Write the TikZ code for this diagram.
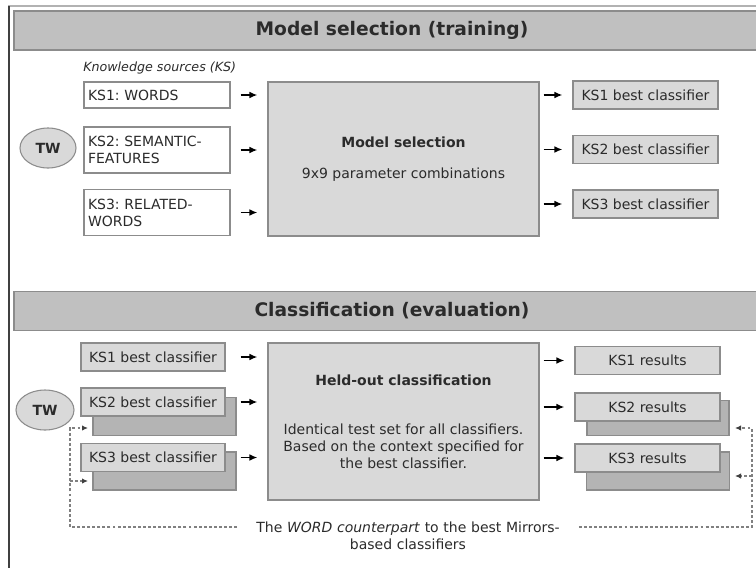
\documentclass[tikz,border=0pt]{standalone}
\usepackage{fontspec}
\setmainfont{DejaVu Sans}
\usetikzlibrary{arrows.meta,shapes.geometric}
\definecolor{barfill}{HTML}{C0C0C0}
\definecolor{barline}{HTML}{8C8C8C}
\definecolor{boxfill}{HTML}{D9D9D9}
\definecolor{boxline}{HTML}{8C8C8C}
\definecolor{shadefill}{HTML}{B4B4B4}
\definecolor{ink}{HTML}{2B2B2B}
\frenchspacing
\begin{document}
\begin{tikzpicture}[x=0.75pt,y=-0.75pt,
  font=\fontsize{10.5}{12.75}\selectfont, text=ink,
  bar/.style={draw=barline,fill=barfill,line width=1.2pt,minimum width=567pt,minimum height=29.25pt,font=\fontsize{14}{16}\selectfont\bfseries},
  ksbox/.style={draw=boxline,fill=white,line width=0.8pt,minimum width=109.5pt,text width=103.5pt,inner xsep=3pt,align=left},
  outbox/.style={draw=boxline,fill=boxfill,line width=0.8pt,minimum width=108.75pt,minimum height=21pt},
  shadebox/.style={draw=boxline,fill=shadefill,line width=0.8pt,minimum width=107.25pt,minimum height=28.5pt},
  bigbox/.style={draw=boxline,fill=boxfill,line width=0.8pt,minimum width=203.25pt,align=center},
  twoval/.style={ellipse,draw=boxline,fill=boxfill,line width=0.8pt,minimum width=42pt,minimum height=30pt,font=\fontsize{10.5}{12}\selectfont\bfseries},
  note/.style={text width=246pt,inner xsep=5pt,inner ysep=0pt,align=center},
  arr/.style={-{Latex[length=6pt,width=5pt]},line width=1.2pt,black,shorten <=7.5pt,shorten >=7.5pt},
  loopline/.style={draw=gray,line width=0.8pt,dash pattern=on 2.2pt off 1.6pt},
  looparr/.style={loopline,-{Latex[length=4.5pt,width=4pt,color=black!75]}}]
\useasboundingbox (0,0) rectangle (756,568);
\draw[gray!60,line width=1pt] (8,6) -- (756,6);
\draw[gray!50!black,line width=1.6pt] (9,6) -- (9,568);

\node[bar] (hdr1) at (392,30.5) {Model selection (training)};
\node[anchor=west,inner sep=0pt,font=\fontsize{9.5}{11}\selectfont\itshape] (kslabel) at (83,68) {Knowledge sources (KS)};
\node[ksbox,minimum height=19.5pt] (ks1) at (157,95) {KS1: WORDS};
\node[ksbox,minimum height=34.5pt] (ks2) at (157,150) {KS2: SEMANTIC-\\FEATURES};
\node[ksbox,minimum height=34.5pt] (ks3) at (157,212.5) {KS3: RELATED-\\WORDS};
\node[twoval] (tw1) at (48,148) {TW};
\node[bigbox,minimum height=115.5pt] (msel) at (403.5,159) {\textbf{Model selection}\\[10pt]9x9 parameter combinations};
\node[outbox] (best1) at (645.5,95) {KS1 best classifier};
\node[outbox] (best2) at (645.5,149.5) {KS2 best classifier};
\node[outbox] (best3) at (645.5,204) {KS3 best classifier};
\foreach \n in {1,2,3} \draw[arr] (ks\n.east) -- (ks\n.east -| msel.west);
\foreach \n in {1,2,3} \draw[arr,shorten <=3pt] (best\n.west -| msel.east) -- (best\n.west);

\node[bar] (hdr2) at (392,311) {Classification (evaluation)};
\node[twoval,minimum width=43.5pt] (tw2) at (45,410) {TW};
\node[outbox,minimum width=108pt] (cls1) at (153,357) {KS1 best classifier};
\node[shadebox] (cls2sh) at (164.5,416.5) {};
\node[outbox,minimum width=108pt] (cls2) at (153,402) {KS2 best classifier};
\node[shadebox] (cls3sh) at (164.5,471) {};
\node[outbox,minimum width=108pt] (cls3) at (153,457.5) {KS3 best classifier};
\node[bigbox,minimum height=117.75pt] (held) at (403.5,421.5) {\textbf{Held-out classification}\\[24pt]Identical test set for all classifiers.\\Based on the context specified for\\the best classifier.};
\node[outbox] (res1) at (647.5,360.5) {KS1 results};
\node[shadebox,minimum width=106.5pt,minimum height=26.25pt] (res2sh) at (658,418) {};
\node[outbox] (res2) at (647.5,407) {KS2 results};
\node[shadebox] (res3sh) at (658,471) {};
\node[outbox] (res3) at (647.5,458) {KS3 results};
\foreach \n in {1,2,3} \draw[arr,shorten <=11.25pt] (cls\n.east) -- (cls\n.east -| held.west);
\foreach \n in {1,2,3} \draw[arr,shorten <=3pt] (res\n.west -| held.east) -- (res\n.west);

\node[note] (note) at (408,536) {The \textit{WORD counterpart} to the best Mirrors-\\based classifiers};
\coordinate (lb) at (70,527);
\coordinate (rb) at (752,527);
\coordinate (l2) at (88,428);
\coordinate (l3) at (88,481);
\coordinate (r2) at (735,428);
\coordinate (r3) at (735,476);
\draw[looparr] (note.west |- lb) -- (lb) |- (l2);
\draw[looparr] (lb |- l3) -- (l3);
\draw[looparr] (note.east |- rb) -- (rb) |- (r2);
\draw[looparr] (rb |- r3) -- (r3);
\end{tikzpicture}
\end{document}
